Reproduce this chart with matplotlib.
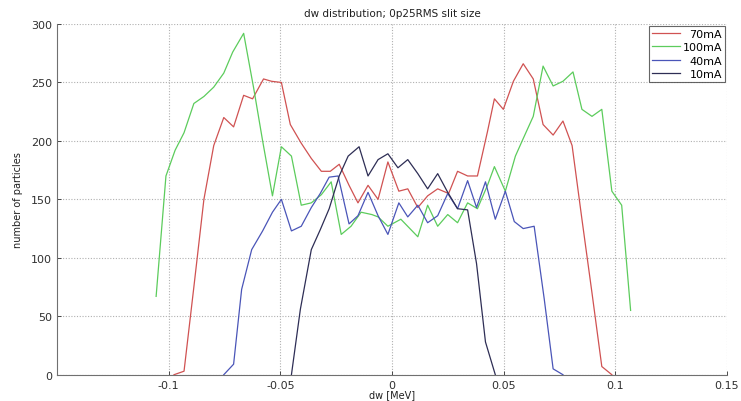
import matplotlib
matplotlib.use("Agg")
import matplotlib.pyplot as plt

plt.rcParams['font.family'] = ['DejaVu Sans']

# dw bin centres [MeV] and particle counts for each beam current
dw_70 = [-0.0976, -0.0931, -0.0887, -0.0842, -0.0798, -0.0753, -0.0709, -0.0664,
         -0.0624, -0.0575, -0.0539, -0.0495, -0.0455, -0.0406, -0.0361, -0.0316,
         -0.0276, -0.0236, -0.0192, -0.0152, -0.0107, -0.0062, -0.0018, 0.0031,
         0.0071, 0.0116, 0.0160, 0.0205, 0.0254, 0.0294, 0.0339, 0.0383, 0.0428,
         0.0459, 0.0499, 0.0544, 0.0588, 0.0633, 0.0677, 0.0722, 0.0766, 0.0807,
         0.0851, 0.0896, 0.0940, 0.0985]
n_70 = [0, 3, 75, 150, 196, 220, 212, 239, 236, 253, 251, 250, 214, 198, 185, 174,
        174, 180, 162, 147, 162, 150, 182, 157, 159, 143, 153, 159, 155, 174, 170,
        170, 208, 236, 227, 251, 266, 253, 214, 205, 217, 196, 133, 70, 7, 0]

dw_100 = [-0.1056, -0.1012, -0.0971, -0.0931, -0.0887, -0.0842, -0.0798, -0.0753,
          -0.0713, -0.0664, -0.0619, -0.0579, -0.0535, -0.0495, -0.0450, -0.0406,
          -0.0361, -0.0316, -0.0272, -0.0227, -0.0183, -0.0138, -0.0090, -0.0062,
          -0.0018, 0.0040, 0.0116, 0.0160, 0.0205, 0.0250, 0.0294, 0.0339, 0.0383,
          0.0428, 0.0459, 0.0508, 0.0553, 0.0588, 0.0633, 0.0677, 0.0722, 0.0766,
          0.0811, 0.0851, 0.0896, 0.0940, 0.0985, 0.1029, 0.1069]
n_100 = [67, 170, 192, 207, 232, 238, 246, 258, 276, 292, 245, 200, 153, 195, 187,
         145, 147, 154, 165, 120, 127, 139, 137, 135, 127, 133, 118, 145, 127, 137,
         130, 147, 142, 162, 178, 157, 187, 202, 221, 264, 247, 251, 259, 227, 221,
         227, 157, 145, 55]

dw_40 = [-0.0753, -0.0709, -0.0673, -0.0628, -0.0579, -0.0535, -0.0495, -0.0450,
         -0.0406, -0.0361, -0.0321, -0.0281, -0.0241, -0.0192, -0.0152, -0.0107,
         -0.0062, -0.0018, 0.0031, 0.0071, 0.0116, 0.0160, 0.0205, 0.0250, 0.0294,
         0.0339, 0.0379, 0.0419, 0.0463, 0.0508, 0.0548, 0.0588, 0.0637, 0.0682,
         0.0722, 0.0766]
n_40 = [0, 9, 73, 107, 123, 139, 150, 123, 127, 143, 155, 169, 170, 129, 136, 156,
        136, 120, 147, 135, 145, 130, 136, 155, 142, 166, 143, 165, 133, 157, 131,
        125, 127, 65, 5, 0]

dw_10 = [-0.0450, -0.0410, -0.0361, -0.0321, -0.0281, -0.0236, -0.0196, -0.0147,
         -0.0107, -0.0062, -0.0018, 0.0027, 0.0071, 0.0116, 0.0160, 0.0205, 0.0250,
         0.0294, 0.0339, 0.0379, 0.0419, 0.0463]
n_10 = [0, 56, 107, 124, 142, 170, 187, 195, 170, 184, 189, 177, 184, 172, 159, 172,
        156, 142, 141, 95, 28, 0]

labels = ['70mA', '100mA', '40mA', '10mA']
colors = ['#d05252', '#5ccc5c', '#4a55b8', '#2e2e55']

xticks = [-0.1, -0.05, 0, 0.05, 0.1, 0.15]
xticklabels = ['-0.1', '-0.05', '0', '0.05', '0.1', '0.15']
yticks = [0, 50, 100, 150, 200, 250, 300]

fig = plt.figure(figsize=(7.41, 4.02), dpi=100)
ax = fig.add_axes([0.0769, 0.0654, 0.904, 0.8724])

series = [(dw_70, n_70), (dw_100, n_100), (dw_40, n_40), (dw_10, n_10)]
for (x, y), lab, c in zip(series, labels, colors):
    ax.plot(x, y, color=c, lw=0.9, label=lab)

ax.set_xlim(-0.15, 0.15)
ax.set_ylim(0, 300)
ax.set_xticks(xticks)
ax.set_xticklabels(xticklabels)
ax.set_yticks(yticks)
ax.grid(True, linestyle=(0, (1, 1.5)), color='#b0b0b0', lw=0.8)
for s in ('top', 'right'):
    ax.spines[s].set_visible(False)
for s in ('left', 'bottom'):
    ax.spines[s].set_color('#707070')
    ax.spines[s].set_linewidth(0.8)
ax.tick_params(direction='in', length=3, labelsize=8, colors='#303030', width=0.6)

ax.set_title('dw distribution; 0p25RMS slit size', fontsize=7.5, color='#202020', pad=6)
ax.set_xlabel('dw [MeV]', fontsize=7, color='#202020', labelpad=0)
ax.set_ylabel('number of particles', fontsize=7, color='#202020', labelpad=6)

leg = ax.legend(loc='upper right', fontsize=8, frameon=True, fancybox=False,
                handlelength=2.5, handletextpad=0.2, borderpad=0.3,
                labelspacing=0.3, borderaxespad=0.15)
leg.get_frame().set_edgecolor('#404040')
leg.get_frame().set_linewidth(0.8)

# right-align the legend labels (offsets are in display pixels)
fig.canvas.draw()
renderer = fig.canvas.get_renderer()
widths = [t.get_window_extent(renderer).width for t in leg.get_texts()]
wmax = max(widths)
for t, w in zip(leg.get_texts(), widths):
    t.set_position((wmax - w, 0))

fig.savefig('out.png', dpi=100)
